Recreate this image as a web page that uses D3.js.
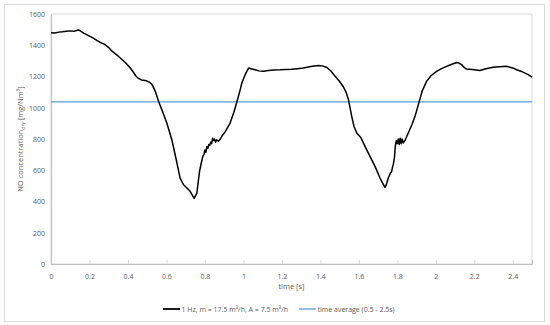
<!DOCTYPE html>
<html>
<head>
<meta charset="utf-8">
<script src="https://cdn.jsdelivr.net/npm/d3@7"></script>
<style>
  body { margin: 0; background: #fff; }
  text { font-family: "Open Sans", "Noto Sans", sans-serif; fill: #595959; }
</style>
</head>
<body>
<svg id="chart"></svg>
<script>
var times = [0.00, 0.02, 0.04, 0.06, 0.08, 0.10, 0.12, 0.14, 0.15, 0.17, 0.195, 0.22, 0.24, 0.256, 0.28, 0.30, 0.317, 0.35, 0.386, 0.41,
  0.424, 0.44, 0.452, 0.47, 0.49, 0.51, 0.525, 0.542, 0.559, 0.58, 0.602, 0.628, 0.651, 0.671, 0.689, 0.705, 0.723, 0.744, 0.758, 0.772,
  0.78, 0.789, 0.795, 0.80, 0.805, 0.81, 0.815, 0.82, 0.825, 0.83, 0.835, 0.84, 0.845, 0.85, 0.855, 0.862, 0.87, 0.88, 0.89, 0.905,
  0.931, 0.95, 0.966, 0.98, 0.992, 1.01, 1.027, 1.04, 1.061, 1.08, 1.104, 1.13, 1.16, 1.191, 1.22, 1.25, 1.28, 1.312, 1.35, 1.39,
  1.41, 1.434, 1.455, 1.477, 1.50, 1.52, 1.535, 1.546, 1.556, 1.563, 1.575, 1.589, 1.61, 1.632, 1.658, 1.684, 1.71, 1.725, 1.736, 1.742,
  1.748, 1.753, 1.76, 1.765, 1.77, 1.775, 1.779, 1.785, 1.79, 1.795, 1.80, 1.805, 1.81, 1.815, 1.82, 1.825, 1.831, 1.84, 1.857, 1.875,
  1.892, 1.914, 1.93, 1.952, 1.975, 2.004, 2.03, 2.056, 2.08, 2.108, 2.12, 2.134, 2.15, 2.16, 2.19, 2.229, 2.26, 2.298, 2.33, 2.368,
  2.40, 2.42, 2.45, 2.48, 2.50]
var concentration = [1480, 1478, 1484, 1486, 1490, 1492, 1490, 1497, 1494, 1478, 1462, 1446, 1430, 1418, 1405, 1385, 1362, 1330, 1290, 1258,
  1235, 1205, 1190, 1178, 1175, 1165, 1150, 1105, 1041, 975, 902, 795, 667, 550, 507, 488, 465, 420, 454, 593,
  640, 689, 700, 730, 715, 750, 740, 765, 758, 780, 770, 805, 790, 800, 780, 795, 785, 800, 822, 845,
  902, 970, 1037, 1100, 1158, 1215, 1254, 1250, 1243, 1236, 1233, 1238, 1242, 1243, 1245, 1246, 1250, 1255, 1264, 1271,
  1268, 1258, 1235, 1201, 1168, 1133, 1095, 1052, 990, 945, 880, 838, 810, 753, 689, 625, 550, 515, 490, 505,
  530, 550, 570, 585, 590, 620, 636, 680, 760, 790, 770, 800, 765, 805, 770, 800, 775, 790, 838, 890,
  945, 1041, 1110, 1169, 1205, 1233, 1250, 1265, 1277, 1290, 1286, 1276, 1255, 1248, 1245, 1239, 1250, 1259, 1263, 1265,
  1255, 1243, 1230, 1212, 1196]
var averageValue = 1037
var xTicks = [0, 0.2, 0.4, 0.6, 0.8, 1, 1.2, 1.4, 1.6, 1.8, 2, 2.2, 2.4]
var yTicks = [0, 200, 400, 600, 800, 1000, 1200, 1400, 1600]
var seriesNames = ["1 Hz, m = 17.5 m³/h, A = 7.5 m³/h", "time average (0.5 - 2.5s)"]

var screen = {width: 550, height: 325}
var margins = {top: 14, bottom: 61, left: 51, right: 18}
var graph = {
  width: screen.width - margins.left - margins.right,
  height: screen.height - margins.top - margins.bottom
}

var svg = d3.select("#chart")
  .attr("width", screen.width)
  .attr("height", screen.height)

// chart area border
svg.append("rect")
  .attr("x", 4.5).attr("y", 4.5)
  .attr("width", 540).attr("height", 317)
  .attr("fill", "none")
  .attr("stroke", "#d9d9d9")

var xScale = d3.scaleLinear().domain([0, 2.5]).range([0, graph.width])
var yScale = d3.scaleLinear().domain([0, 1600]).range([graph.height, 0])

var g = svg.append("g")
  .attr("transform", "translate(" + margins.left + "," + margins.top + ")")

// plot area border
g.append("rect")
  .attr("width", graph.width).attr("height", graph.height)
  .attr("fill", "none")
  .attr("stroke", "#d9d9d9")

var xAxis = g.append("g")
  .attr("transform", "translate(0," + graph.height + ")")
  .call(d3.axisBottom(xScale).tickValues(xTicks).tickSize(-4).tickPadding(10).tickFormat(d3.format("")))
xAxis.select(".domain").attr("stroke", "#bfbfbf")
xAxis.selectAll(".tick line").attr("stroke", "#d9d9d9")
xAxis.selectAll("text").attr("font-size", 7).attr("fill", "#595959")

var yAxis = g.append("g")
  .call(d3.axisLeft(yScale).tickValues(yTicks).tickSize(0).tickPadding(6).tickFormat(d3.format("d")))
yAxis.select(".domain").attr("stroke", "#bfbfbf")
yAxis.selectAll("text").attr("font-size", 7).attr("fill", "#595959")

// average line
g.append("line")
  .attr("x1", 0).attr("x2", graph.width)
  .attr("y1", yScale(averageValue)).attr("y2", yScale(averageValue))
  .attr("stroke", "#5b9bd5")
  .attr("stroke-width", 1.3)

var points = times.map(function(t, i) { return {t: t, v: concentration[i]} })
var lineGenerator = d3.line()
  .x(function(d) { return xScale(d.t) })
  .y(function(d) { return yScale(d.v) })

g.append("path")
  .datum(points)
  .attr("d", lineGenerator)
  .attr("fill", "none")
  .attr("stroke", "black")
  .attr("stroke-width", 1.5)
  .attr("stroke-linejoin", "round")

// axis titles
svg.append("text")
  .attr("x", margins.left + graph.width / 2)
  .attr("y", 289)
  .attr("text-anchor", "middle")
  .attr("font-size", 7.5)
  .text("time [s]")

var yTitle = svg.append("text")
  .attr("transform", "translate(23," + (margins.top + graph.height / 2) + ") rotate(-90)")
  .attr("text-anchor", "middle")
  .attr("font-size", 7.5)
yTitle.append("tspan").text("NO concentration")
yTitle.append("tspan").attr("font-size", 5).attr("dy", 2).text("dry")
yTitle.append("tspan").attr("dy", -2).text(" [mg/Nm³]")

// legend
var legendColors = ["black", "#5b9bd5"]
var legendX = [163, 299]
seriesNames.forEach(function(name, i) {
  var lg = svg.append("g").attr("transform", "translate(" + legendX[i] + ",309)")
  lg.append("line")
    .attr("x1", 0).attr("x2", 17)
    .attr("stroke", legendColors[i])
    .attr("stroke-width", i == 0 ? 1.8 : 1.3)
  lg.append("text")
    .attr("x", 18.5).attr("y", 2.5)
    .attr("font-size", 7)
    .text(name)
})
</script>
</body>
</html>
